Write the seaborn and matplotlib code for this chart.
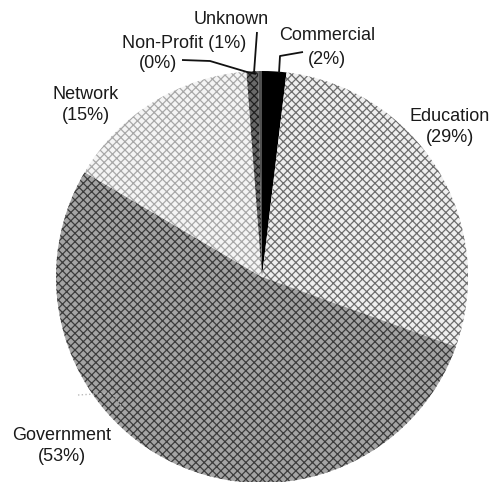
import matplotlib
matplotlib.use("Agg")
import matplotlib.pyplot as plt
import seaborn as sns

# pie shares (percent), clockwise from 12 o'clock
categories = ["Commercial", "Education", "Government", "Network", "Non-Profit", "Unknown"]
shares     = [1.9, 28.6, 53.0, 15.3, 0.9, 0.3]

FACE   = ["#000000", "#efefef", "#a4a4a4", "#f4f4f4", "#6a6a6a", "#505050"]
HATCH  = [None, "xxxx", "xxxx", "xxxx", "xxxx", None]
HCOLOR = ["#000000", "#6e6e6e", "#3c3c3c", "#a8a8a8", "#202020", "#505050"]

W, H = 497, 482
CX, CY, R = 262, 482 - 277, 206

sns.set_theme(style="white")
plt.rcParams["font.family"] = ["Liberation Sans", "DejaVu Sans"]
plt.rcParams["hatch.linewidth"] = 0.9

fig = plt.figure(figsize=(W / 100, H / 100), dpi=100)
ax = fig.add_axes([0, 0, 1, 1])
ax.set_xlim(0, W)
ax.set_ylim(0, H)
ax.set_aspect("equal")

wedges, _ = ax.pie(
    shares,
    startangle=90,
    counterclock=False,
    center=(CX, CY),
    radius=R,
    colors=FACE,
    wedgeprops=dict(linewidth=0),
    frame=True,
)
ax.axis("off")
for w, h, hc in zip(wedges, HATCH, HCOLOR):
    w.set_edgecolor(hc)
    w.set_linewidth(0)
    if h:
        w.set_hatch(h)


def px(x, y):
    # image pixel (top-left origin) -> data coords
    return x, H - y


pct = {c: round(s) for c, s in zip(categories, shares)}
fs = 13
tc = "#1a1a1a"


def two_line(name, x, y):
    ax.text(*px(x, y), f"{name}\n({pct[name]}%)", ha="center", va="center",
            fontsize=fs, color=tc, linespacing=1.25)


two_line("Education", 450, 127)
two_line("Government", 62, 446)
two_line("Network", 86, 105)
ax.text(*px(327, 35), "Commercial", ha="center", va="center", fontsize=fs, color=tc)
ax.text(*px(327, 60), f"({pct['Commercial']}%)", ha="center", va="center", fontsize=fs, color=tc)
ax.text(*px(231, 20), "Unknown", ha="center", va="center", fontsize=fs, color=tc)
ax.text(*px(184, 43), f"Non-Profit ({pct['Non-Profit']}%)", ha="center", va="center",
        fontsize=fs, color=tc)
ax.text(*px(158, 63), f"({pct['Unknown']}%)", ha="center", va="center", fontsize=fs, color=tc)


# leader lines
def leader(points, color="#111111", lw=1.3, ls="-"):
    xs, ys = zip(*[px(x, y) for x, y in points])
    ax.plot(xs, ys, color=color, lw=lw, ls=ls, solid_capstyle="butt")


leader([(303, 52), (280, 56), (279, 73)])
leader([(257, 32), (254, 73)])
leader([(182, 60), (210, 61), (247, 72), (256, 74)])
leader([(78, 395), (112, 393), (124, 410)], color="#bbbbbb", lw=1.0, ls=":")

fig.savefig("out.png", dpi=100)
